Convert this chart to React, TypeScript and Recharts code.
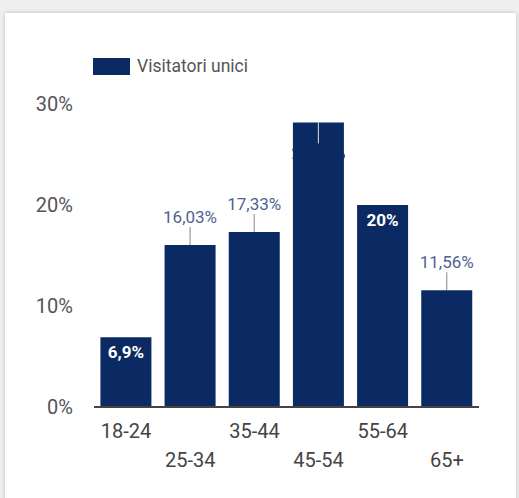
import React from 'react';
import { BarChart, Bar, XAxis, YAxis, Legend, LabelList } from 'recharts';

const categories = ['18-24', '25-34', '35-44', '45-54', '55-64', '65+'];
const values = [6.9, 16.03, 17.33, 28.18, 20, 11.56];
const valueLabels = ['6,9%', '16,03%', '17,33%', '28,18%', '20%', '11,56%'];
const labelModes = ['inside', 'outside', 'outside', 'hidden', 'inside', 'outside'];
const yTicks = [0, 10, 20, 30];
const seriesName = 'Visitatori unici';

const data = categories.map((c, i) => ({ cat: c, v: values[i], lbl: valueLabels[i], mode: labelModes[i] }));

const BAR = '#0b2a63';
const FONT = 'Roboto, "Noto Sans", sans-serif';

const XTick = (props: any) => {
  const { x, y, payload, index } = props;
  const dy = index % 2 === 0 ? 31 : 60;
  return (
    <text x={x} y={y + dy} textAnchor="middle" fill="#444" fontSize={20} fontFamily={FONT}>
      {payload.value}
    </text>
  );
};

const BarLabel = (props: any) => {
  const { x, y, width, index } = props;
  const cx = x + width / 2;
  const mode = labelModes[index];
  const text = valueLabels[index];
  if (mode === 'inside') {
    return (
      <text x={cx} y={y + 21} textAnchor="middle" fill="#fff" fontWeight="bold" fontSize={17} fontFamily={FONT}>
        {text}
      </text>
    );
  }
  if (mode === 'outside') {
    return (
      <g>
        <line x1={cx} x2={cx} y1={y - 18} y2={y} stroke="#9a9a9a" strokeWidth={1.2} />
        <text x={cx} y={y - 22} textAnchor="middle" fill="#4f6390" fontSize={17} fontFamily={FONT}>
          {text}
        </text>
      </g>
    );
  }
  return (
    <g>
      <line x1={cx} x2={cx} y1={y} y2={y + 21} stroke="#c4c4c4" strokeWidth={1.2} />
      <text x={cx} y={y + 37} textAnchor="middle" fill={BAR} fontSize={17} fontFamily={FONT}>
        {text}
      </text>
    </g>
  );
};

const LegendContent = () => (
  <div style={{ display: 'flex', alignItems: 'center', fontFamily: FONT }}>
    <div style={{ width: 37, height: 17, background: BAR, marginRight: 7 }} />
    <span style={{ fontSize: 17.5, color: '#555' }}>{seriesName}</span>
  </div>
);

export default function App() {
  return (
    <div style={{ position: 'absolute', left: 0, top: 0, width: 519, height: 498, background: '#efefef', overflow: 'hidden' }}>
      <div
        style={{
          position: 'absolute',
          left: 5,
          top: 13,
          width: 511,
          height: 500,
          background: '#fff',
          boxShadow: '0 0 4px rgba(0,0,0,0.22)',
        }}
      />
      <div style={{ position: 'absolute', left: 0, top: 0 }}>
        <BarChart
          width={519}
          height={498}
          data={data}
          margin={{ top: 104, right: 40, left: 0, bottom: 0 }}
          barCategoryGap="10%"
        >
          <XAxis
            dataKey="cat"
            height={91}
            interval={0}
            tickLine={false}
            tickSize={0}
            tickMargin={0}
            tick={<XTick />}
            axisLine={{ stroke: '#444', strokeWidth: 2 }}
          />
          <YAxis
            width={94}
            domain={[0, 30]}
            ticks={yTicks}
            axisLine={false}
            tickLine={false}
            tickSize={0}
            tickMargin={21}
            tickFormatter={(v: number) => `${v}%`}
            tick={{ fill: '#555', fontSize: 20, fontFamily: FONT }}
          />
          <Legend
            layout="horizontal"
            verticalAlign="middle"
            align="center"
            content={<LegendContent />}
            wrapperStyle={{ top: 56, left: 93, width: 'auto', height: 'auto' }}
          />
          <Bar dataKey="v" name={seriesName} fill={BAR} isAnimationActive={false}>
            <LabelList dataKey="lbl" content={<BarLabel />} />
          </Bar>
        </BarChart>
      </div>
    </div>
  );
}
